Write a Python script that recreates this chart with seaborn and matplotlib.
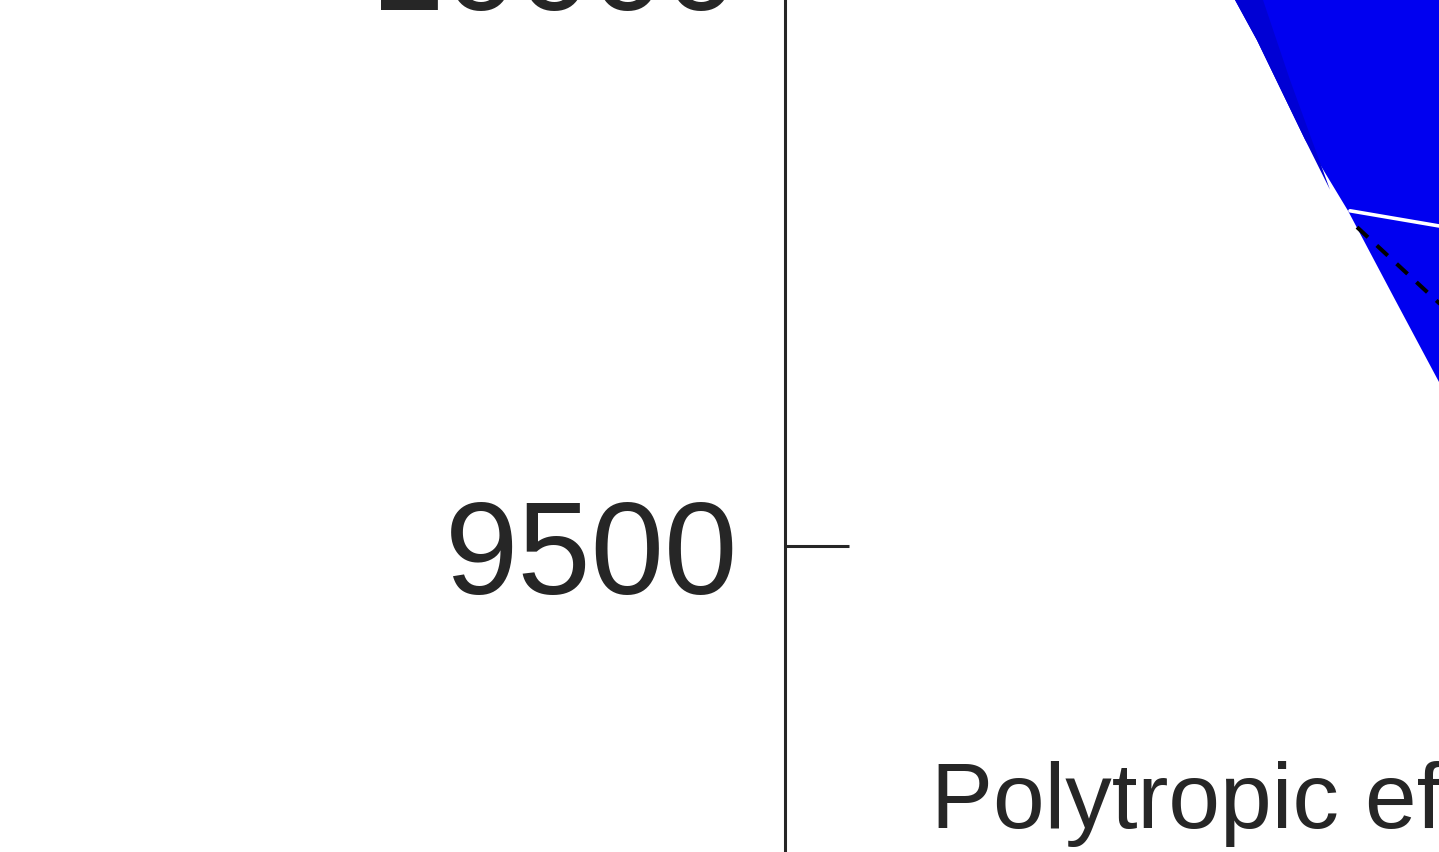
import numpy as np
import matplotlib
matplotlib.use("Agg")
import matplotlib.pyplot as plt
import seaborn as sns

# outline of the efficiency region (left edge, then closed off-canvas)
region_x = [3.65, 4.50, 4.72, 5.20, 5.63, 6.10, 6.53, 8.05, 10.0, 10.0]
region_y = [10100, 9967.5, 9933, 9848, 9787, 9711, 9642, 9400, 9400, 10100]

# darker band that follows the upper part of the edge
band_x = [3.65, 4.50, 4.72, 5.20, 5.45, 5.05, 4.78, 3.95]
band_y = [10100, 9967.5, 9933, 9848, 9805, 9899, 9967.5, 10100]

# speed line (white) and surge line (dashed)
speed_x = [5.65, 7.5]
speed_y = [9787, 9760]
surge_x = [5.72, 7.5]
surge_y = [9773, 9632]

yticks = [9000, 9500, 10000]

sns.set_theme(style="ticks")
plt.rcParams["font.family"] = ["Liberation Sans", "DejaVu Sans"]

fig = plt.figure(figsize=(14.39, 8.52), dpi=100)
# axes runs past the canvas on the right, top and bottom
ax = fig.add_axes([785 / 1439, -0.32629, 1000 / 1439, 1.64507])

ax.fill(region_x, region_y, color="#0000f0", lw=0, zorder=1)
ax.fill(band_x, band_y, color="#0000d4", lw=0, zorder=1.5)

sns.lineplot(x=speed_x, y=speed_y, ax=ax, color="white", lw=2.6, zorder=3)
sns.lineplot(x=surge_x, y=surge_y, ax=ax, color="black", lw=2.9,
             dashes=False, zorder=3).lines[-1].set_dashes((3.7, 3.0))

ax.text(1.46, 9258.6, "Polytropic efficiency", fontsize=67,
        color="#262626", ha="left", va="baseline")

ax.set_xlim(0, 10)
ax.set_ylim(9000, 10200)
ax.set_yticks(yticks)
ax.set_xticks([])
ax.tick_params(axis="y", direction="in", length=46, width=2.2,
               labelsize=95, pad=34, colors="#262626")
for side in ["top", "right"]:
    ax.spines[side].set_visible(False)
ax.spines["left"].set_linewidth(2.2)
ax.spines["left"].set_color("#262626")
ax.spines["bottom"].set_visible(False)

plt.savefig("out.png", dpi=100)
